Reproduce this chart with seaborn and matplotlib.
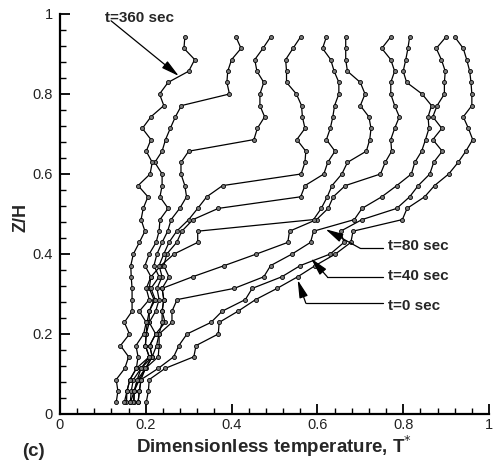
import matplotlib
matplotlib.use("Agg")
import matplotlib.pyplot as plt
from matplotlib.ticker import MultipleLocator, FuncFormatter
import pandas as pd
import seaborn as sns

# Probe heights Z/H, listed from the top probe down to the bottom one
z_h = [0.943, 0.914, 0.886, 0.857, 0.829, 0.800, 0.771, 0.743, 0.714, 0.686,
       0.657, 0.629, 0.600, 0.571, 0.543, 0.514, 0.486, 0.457, 0.429, 0.400,
       0.371, 0.343, 0.314, 0.286, 0.257, 0.229, 0.200, 0.171, 0.143, 0.114,
       0.086, 0.057, 0.029]

# Dimensionless temperature profiles T* at each probe (same order as z_h)
t_0 = [0.920, 0.940, 0.948, 0.955, 0.958, 0.960, 0.960, 0.940, 0.952, 0.962,
       0.946, 0.928, 0.906, 0.873, 0.850, 0.809, 0.798, 0.683, 0.678, 0.642,
       0.595, 0.554, 0.506, 0.456, 0.415, 0.371, 0.369, 0.317, 0.312, 0.245,
       0.208, 0.206, 0.201]
t_40 = [0.900, 0.877, 0.889, 0.898, 0.896, 0.896, 0.879, 0.869, 0.890, 0.869,
        0.891, 0.871, 0.862, 0.835, 0.815, 0.785, 0.704, 0.654, 0.662, 0.630,
        0.560, 0.517, 0.448, 0.432, 0.378, 0.352, 0.296, 0.277, 0.265, 0.229,
        0.189, 0.185, 0.182]
t_80 = [0.815, 0.811, 0.806, 0.800, 0.808, 0.844, 0.866, 0.858, 0.860, 0.852,
        0.843, 0.827, 0.819, 0.785, 0.750, 0.704, 0.686, 0.591, 0.584, 0.541,
        0.491, 0.475, 0.406, 0.273, 0.261, 0.261, 0.231, 0.231, 0.229, 0.199,
        0.181, 0.173, 0.173]
t_120 = [0.771, 0.750, 0.771, 0.780, 0.771, 0.771, 0.780, 0.791, 0.780, 0.771,
         0.773, 0.758, 0.747, 0.665, 0.637, 0.625, 0.598, 0.535, 0.531, 0.458,
         0.383, 0.309, 0.238, 0.242, 0.238, 0.245, 0.223, 0.209, 0.215, 0.189,
         0.171, 0.166, 0.164]
t_160 = [0.666, 0.666, 0.666, 0.670, 0.700, 0.711, 0.700, 0.720, 0.725, 0.722,
         0.714, 0.670, 0.657, 0.634, 0.623, 0.609, 0.591, 0.321, 0.321, 0.266,
         0.235, 0.212, 0.208, 0.219, 0.208, 0.208, 0.201, 0.199, 0.208, 0.178,
         0.163, 0.156, 0.155]
t_200 = [0.621, 0.612, 0.631, 0.639, 0.650, 0.650, 0.640, 0.636, 0.630, 0.621,
         0.641, 0.624, 0.615, 0.571, 0.561, 0.369, 0.310, 0.284, 0.272, 0.249,
         0.242, 0.254, 0.238, 0.242, 0.238, 0.238, 0.231, 0.225, 0.215, 0.200,
         0.185, 0.173, 0.171]
t_240 = [0.561, 0.543, 0.526, 0.528, 0.528, 0.551, 0.563, 0.565, 0.571, 0.552,
         0.573, 0.571, 0.562, 0.379, 0.342, 0.321, 0.300, 0.272, 0.254, 0.242,
         0.231, 0.238, 0.226, 0.231, 0.223, 0.208, 0.223, 0.209, 0.215, 0.199,
         0.189, 0.185, 0.182]
t_280 = [0.491, 0.473, 0.454, 0.459, 0.475, 0.466, 0.466, 0.477, 0.460, 0.452,
         0.300, 0.282, 0.282, 0.291, 0.295, 0.279, 0.259, 0.251, 0.238, 0.226,
         0.219, 0.231, 0.212, 0.222, 0.208, 0.203, 0.201, 0.199, 0.208, 0.189,
         0.180, 0.173, 0.164]
t_320 = [0.410, 0.422, 0.400, 0.391, 0.389, 0.395, 0.283, 0.269, 0.257, 0.246,
         0.238, 0.221, 0.238, 0.238, 0.233, 0.252, 0.233, 0.231, 0.224, 0.208,
         0.198, 0.212, 0.201, 0.208, 0.185, 0.201, 0.195, 0.177, 0.182, 0.178,
         0.163, 0.156, 0.150]
t_360 = [0.291, 0.289, 0.314, 0.300, 0.252, 0.232, 0.242, 0.212, 0.192, 0.212,
         0.201, 0.215, 0.210, 0.182, 0.205, 0.194, 0.189, 0.198, 0.185, 0.171,
         0.165, 0.166, 0.168, 0.168, 0.168, 0.150, 0.162, 0.141, 0.160, 0.151,
         0.131, 0.135, 0.131]

times = [0, 40, 80, 120, 160, 200, 240, 280, 320, 360]
profiles = [t_0, t_40, t_80, t_120, t_160, t_200, t_240, t_280, t_320, t_360]

df = pd.concat(
    [pd.DataFrame({"T": p, "Z": z_h, "time": t}) for t, p in zip(times, profiles)],
    ignore_index=True,
)

sns.set_theme(style="white")
plt.rcParams["font.family"] = ["Liberation Sans", "DejaVu Sans"]

fig = plt.figure(figsize=(4.95, 4.65), dpi=100)
ax = fig.add_axes([0.1212, 0.1097, 0.8667, 0.8602])

sns.lineplot(
    data=df, x="T", y="Z", units="time", estimator=None, sort=False,
    color="black", lw=0.9, marker="o", markersize=2.9,
    markerfacecolor="#7a7a7a", markeredgecolor="black", markeredgewidth=0.6,
    legend=False, ax=ax,
)

ax.set_xlim(0, 1)
ax.set_ylim(0, 1)
for side in ("top", "right"):
    ax.spines[side].set_visible(False)
for side in ("left", "bottom"):
    ax.spines[side].set_linewidth(1.6)
    ax.spines[side].set_color("black")

fmt = FuncFormatter(lambda v, _: "0" if abs(v) < 1e-9 else ("1" if abs(v - 1) < 1e-9 else f"{v:.1f}"))
for axis in (ax.xaxis, ax.yaxis):
    axis.set_major_locator(MultipleLocator(0.2))
    axis.set_minor_locator(MultipleLocator(0.04))
    axis.set_major_formatter(fmt)
ax.tick_params(which="both", bottom=True, left=True, top=False, right=False)
ax.tick_params(which="major", direction="in", length=7, width=1.3, colors="black",
               labelsize=10.5, labelcolor="#222222")
ax.tick_params(which="minor", direction="in", length=4, width=1.0, colors="black")
ax.tick_params(axis="x", which="major", pad=3)
ax.tick_params(axis="y", which="major", pad=5)

ax.set_xlabel("Dimensionless temperature, T$^{*}$", fontsize=13.5, fontweight="bold")
ax.set_ylabel("Z/H", fontsize=13, fontweight="bold")
ax.xaxis.set_label_coords(0.5, -0.05)
ax.yaxis.set_label_coords(-0.07, 0.49)

fig.text(0.044, 0.028, "(c)", fontsize=13.5, fontweight="bold", ha="left", va="center")

arrow = dict(arrowstyle="-|>,head_length=0.9,head_width=0.22", lw=0.9,
             color="black", shrinkA=0, shrinkB=0)
lab = dict(fontsize=11, fontweight="bold", va="center", ha="left")

# t=360 sec label at the top with its pointer
ax.text(0.104, 0.991, "t=360 sec", clip_on=False, **lab)
ax.annotate("", xy=(0.277, 0.845), xytext=(0.119, 0.983), arrowprops=arrow,
            annotation_clip=False)

# Labels on the right joined by an elbow leader
leaders = [
    ("t=80 sec", 0.42, 0.414, 0.700, (0.619, 0.462)),
    ("t=40 sec", 0.345, 0.343, 0.623, (0.585, 0.389)),
    ("t=0 sec", 0.27, 0.277, 0.573, (0.554, 0.335)),
]
for text, ty, ly, lx, tip in leaders:
    ax.text(0.765, ty, text, **lab)
    ax.plot([0.754, lx], [ly, ly], color="black", lw=0.9)
    ax.annotate("", xy=tip, xytext=(lx, ly), arrowprops=arrow)

fig.savefig("out.png", dpi=100)
